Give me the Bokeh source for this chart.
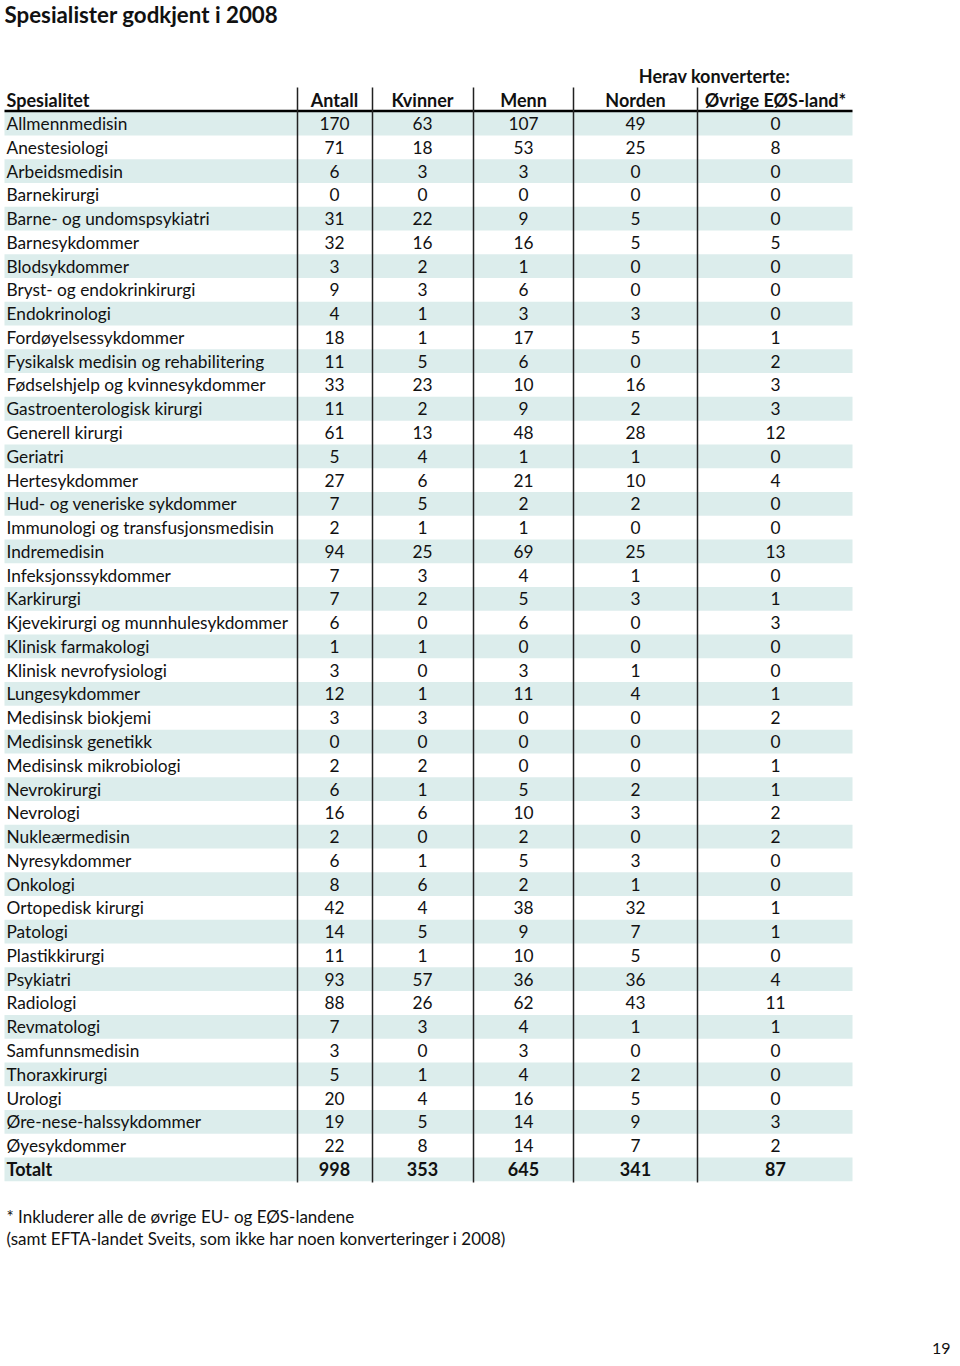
from bokeh.plotting import figure
from bokeh.models import Range1d, ColumnDataSource
from bokeh.core.properties import value
from bokeh.embed import file_html
from bokeh.resources import INLINE

title = "Spesialister godkjent i 2008"
group_header = "Herav konverterte:"
col_headers = ["Spesialitet", "Antall", "Kvinner", "Menn", "Norden", "Øvrige EØS-land*"]

specialities = [
    "Allmennmedisin", "Anestesiologi", "Arbeidsmedisin", "Barnekirurgi",
    "Barne- og undomspsykiatri", "Barnesykdommer", "Blodsykdommer",
    "Bryst- og endokrinkirurgi", "Endokrinologi", "Fordøyelsessykdommer",
    "Fysikalsk medisin og rehabilitering", "Fødselshjelp og kvinnesykdommer",
    "Gastroenterologisk kirurgi", "Generell kirurgi", "Geriatri", "Hertesykdommer",
    "Hud- og veneriske sykdommer", "Immunologi og transfusjonsmedisin", "Indremedisin",
    "Infeksjonssykdommer", "Karkirurgi", "Kjevekirurgi og munnhulesykdommer",
    "Klinisk farmakologi", "Klinisk nevrofysiologi", "Lungesykdommer",
    "Medisinsk biokjemi", "Medisinsk genetikk", "Medisinsk mikrobiologi",
    "Nevrokirurgi", "Nevrologi", "Nukleærmedisin", "Nyresykdommer", "Onkologi",
    "Ortopedisk kirurgi", "Patologi", "Plastikkirurgi", "Psykiatri", "Radiologi",
    "Revmatologi", "Samfunnsmedisin", "Thoraxkirurgi", "Urologi",
    "Øre-nese-halssykdommer", "Øyesykdommer",
]
antall = [170, 71, 6, 0, 31, 32, 3, 9, 4, 18, 11, 33, 11, 61, 5, 27, 7, 2, 94, 7, 7, 6,
          1, 3, 12, 3, 0, 2, 6, 16, 2, 6, 8, 42, 14, 11, 93, 88, 7, 3, 5, 20, 19, 22]
kvinner = [63, 18, 3, 0, 22, 16, 2, 3, 1, 1, 5, 23, 2, 13, 4, 6, 5, 1, 25, 3, 2, 0,
           1, 0, 1, 3, 0, 2, 1, 6, 0, 1, 6, 4, 5, 1, 57, 26, 3, 0, 1, 4, 5, 8]
menn = [107, 53, 3, 0, 9, 16, 1, 6, 3, 17, 6, 10, 9, 48, 1, 21, 2, 1, 69, 4, 5, 6,
        0, 3, 11, 0, 0, 0, 5, 10, 2, 5, 2, 38, 9, 10, 36, 62, 4, 3, 4, 16, 14, 14]
norden = [49, 25, 0, 0, 5, 5, 0, 0, 3, 5, 0, 16, 2, 28, 1, 10, 2, 0, 25, 1, 3, 0,
          0, 1, 4, 0, 0, 0, 2, 3, 0, 3, 1, 32, 7, 5, 36, 43, 1, 0, 2, 5, 9, 7]
ovrige = [0, 8, 0, 0, 0, 5, 0, 0, 0, 1, 2, 3, 3, 12, 0, 4, 0, 0, 13, 0, 1, 3,
          0, 0, 1, 2, 0, 1, 1, 2, 2, 0, 0, 1, 1, 0, 4, 11, 1, 0, 0, 0, 3, 2]
total_label = "Totalt"
totals = [998, 353, 645, 341, 87]
footnote = ["* Inkluderer alle de øvrige EU- og EØS-landene",
            " (samt EFTA-landet Sveits, som ikke har noen konverteringer i 2008)"]
page_number = "19"

# layout (image pixel coordinates)
FONT = "Lato"
FS = "17.3px"
FSB = "18px"
FSH = "18px"
ROW0 = 123.0
ROWH = 23.77
LEFT, RIGHT = 4, 852
col_centers = [334, 422, 523, 635, 775]
separators = [297, 372, 473, 573, 697]
INK = "#111111"

p = figure(width=952, height=1358, x_range=Range1d(0, 952), y_range=Range1d(1358, 0),
           output_backend="svg", toolbar_location=None, min_border=0)
p.axis.visible = False
p.grid.visible = False
p.outline_line_color = None
p.background_fill_color = "white"

n = len(specialities)
rows_y = [ROW0 + i * ROWH for i in range(n + 1)]

# stripes
stripe_y = [y for i, y in enumerate(rows_y) if i % 2 == 0]
p.rect(x=[(LEFT + RIGHT) / 2] * len(stripe_y), y=stripe_y, width=RIGHT - LEFT,
       height=ROWH, fill_color="#DCEDEC", line_color=None)

# header rule and separators
p.segment(x0=[LEFT], y0=[110.5], x1=[RIGHT], y1=[110.5], line_color="black", line_width=2.6)
p.segment(x0=separators, y0=[87] * 5, x1=separators, y1=[1182] * 5,
          line_color="#222222", line_width=1.5)

# title
p.text(x=[4], y=[14], text=[title], text_font=value(FONT), text_font_size="22.3px",
       text_font_style="bold", text_baseline="middle", text_color=INK)
# group header
p.text(x=[714], y=[75], text=[group_header], text_font=value(FONT), text_font_size=FSH,
       text_font_style="bold", text_align="center", text_baseline="middle", text_color=INK)
# column headers
p.text(x=[6], y=[99], text=[col_headers[0]], text_font=value(FONT), text_font_size=FSH,
       text_font_style="bold", text_baseline="middle", text_color=INK)
p.text(x=col_centers, y=[99] * 5, text=col_headers[1:], text_font=value(FONT),
       text_font_size=FSH, text_font_style="bold", text_align="center",
       text_baseline="middle", text_color=INK)

# body labels
src = ColumnDataSource(dict(x=[6] * n, y=rows_y[:n], t=specialities))
p.text(x="x", y="y", text="t", source=src, text_font=value(FONT), text_font_size=FS,
       text_baseline="middle", text_color=INK)
for c, vals in enumerate([antall, kvinner, menn, norden, ovrige]):
    p.text(x=[col_centers[c]] * n, y=rows_y[:n], text=[str(v) for v in vals],
           text_font=value(FONT), text_font_size=FS, text_align="center",
           text_baseline="middle", text_color=INK)

# total row
p.text(x=[6], y=[rows_y[n]], text=[total_label], text_font=value(FONT), text_font_size=FSB,
       text_font_style="bold", text_baseline="middle", text_color=INK)
p.text(x=col_centers, y=[rows_y[n]] * 5, text=[str(v) for v in totals], text_font=value(FONT),
       text_font_size=FSB, text_font_style="bold", text_align="center",
       text_baseline="middle", text_color=INK)

# footnote
p.text(x=[6, 6], y=[1216, 1238], text=footnote, text_font=value(FONT), text_font_size="17px",
       text_baseline="middle", text_color=INK)
# page number
p.text(x=[950], y=[1348], text=[page_number], text_font=value(FONT), text_font_size="16px",
       text_align="right", text_baseline="middle", text_color=INK)

open("out.html", "w").write(file_html(p, INLINE))
